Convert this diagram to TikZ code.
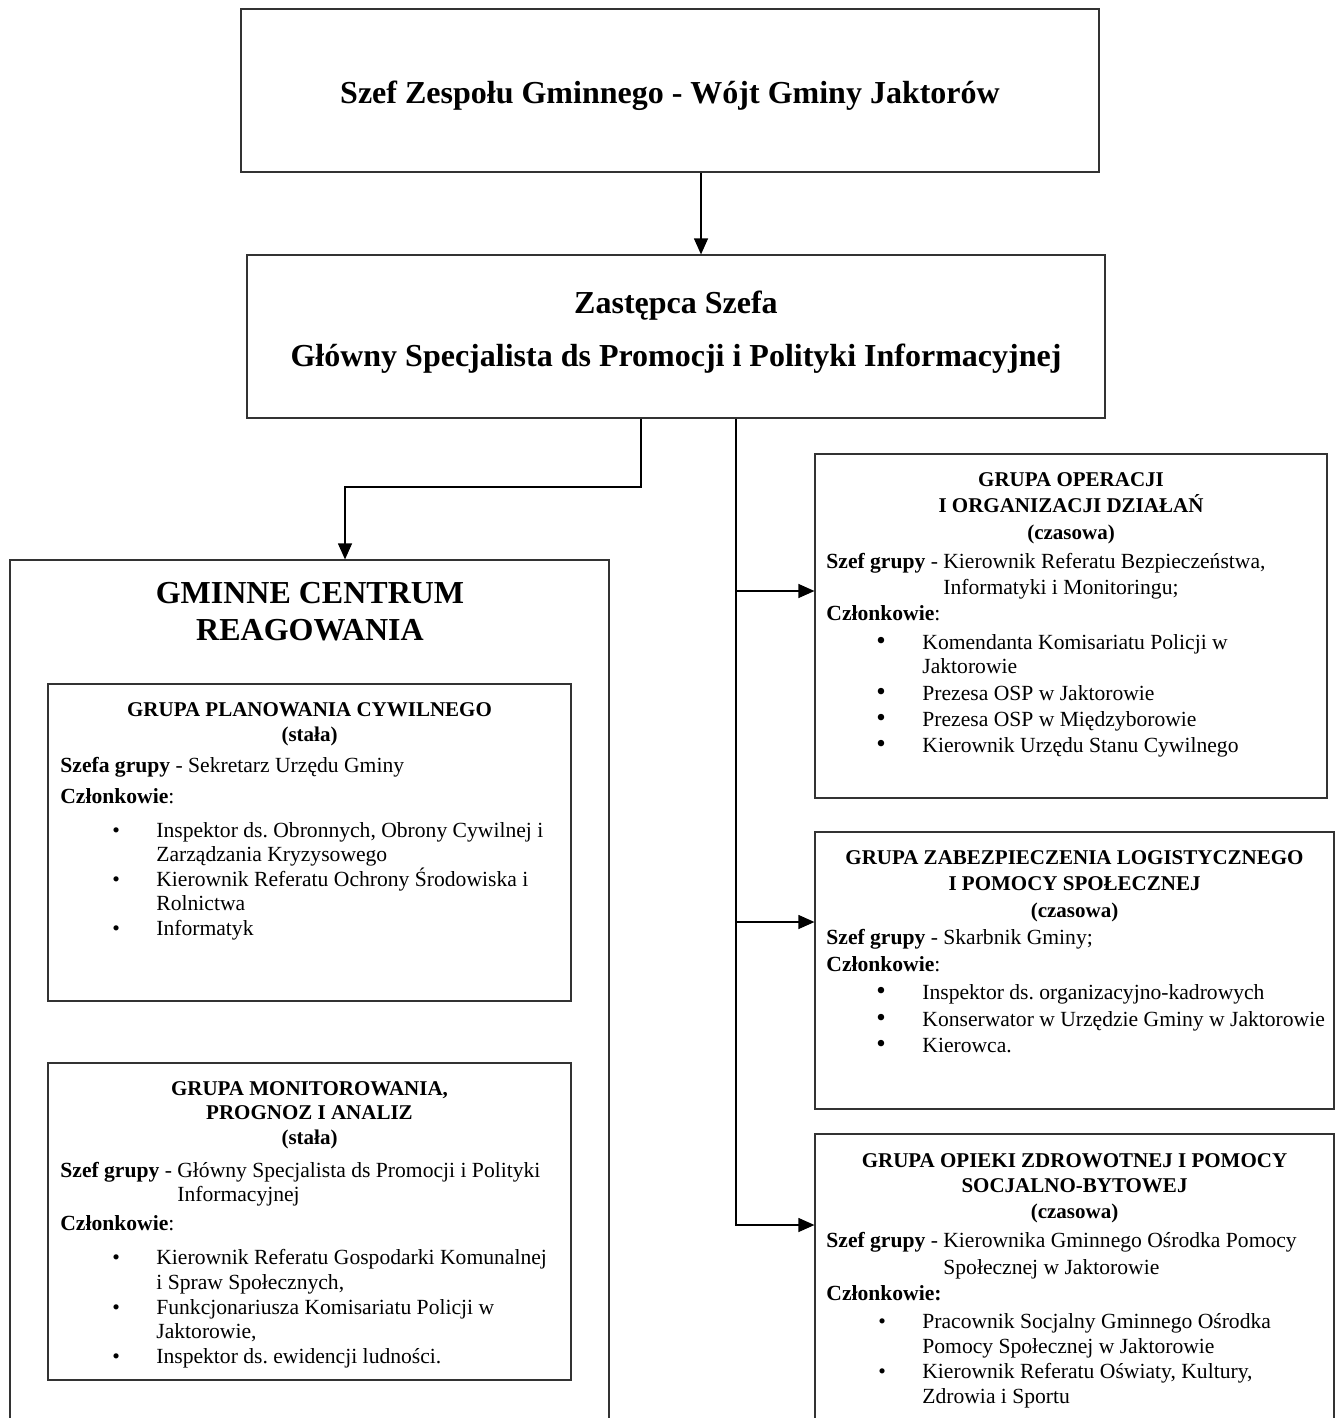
\documentclass[tikz,border=0pt]{standalone}
\usepackage{fontspec}
\setmainfont{Liberation Serif}
\usetikzlibrary{arrows.meta,fit}
\frenchspacing

\newcommand{\pkt}{\hspace*{26pt}\makebox[22pt][l]{\textbullet}}
\newcommand{\kro}{\hspace*{25pt}\makebox[23pt][l]{\smash{\raisebox{-0.4pt}{\fontsize{13.5}{13.5}\selectfont\textbullet}}}}
\newcommand{\dalej}{\hspace*{48pt}}
\newcommand{\szefgr}{\phantom{\textbf{Szef grupy} - }}

\tikzset{
  ramka/.style={draw=black!80, line width=0.6pt, inner sep=0pt},
  linia/.style={line width=0.6pt},
  strzalka/.style={linia, -{Triangle[length=8pt,width=7pt]}},
  tytul/.style={font=\fontsize{16}{26.5}\selectfont\bfseries, align=center, inner sep=0pt, anchor=base},
  naglowek/.style={font=\fontsize{10.5}{12.25}\selectfont\bfseries, align=center, inner sep=0pt, anchor=base},
  tresc/.style={font=\fontsize{10.8}{12}\selectfont, align=left, inner sep=0pt, anchor=base west}
}

\begin{document}
\begin{tikzpicture}[x=0.5pt,y=-0.5pt]
\useasboundingbox (0,0) rectangle (1338,1418);
\clip (0,0) rectangle (1338,1418);

% ramki
\node[ramka, fit={(241,9) (1099,172)}] (szef) {};
\node[ramka, fit={(247,255) (1105,418)}] (zastepca) {};
\node[ramka, fit={(10,560) (609,1440)}] (gcr) {};
\node[ramka, fit={(48,684) (571,1001)}] (planowanie) {};
\node[ramka, fit={(48,1063) (571,1380)}] (monitorowanie) {};
\node[ramka, fit={(815,454) (1327,798)}] (operacje) {};
\node[ramka, fit={(815,832) (1334,1109)}] (logistyka) {};
\node[ramka, fit={(815,1134) (1334,1440)}] (opieka) {};

% tytuly (kotwica = linia bazowa ostatniego wiersza)
\node[tytul] (t-szef) at (670,104) {Szef Zespołu Gminnego - Wójt Gminy Jaktorów};
\node[tytul] (t-zastepca) at (676,366) {Zastępca Szefa\\Główny Specjalista ds Promocji i Polityki Informacyjnej};
\node[tytul, font=\fontsize{16}{18.5}\selectfont\bfseries] (t-gcr) at (310,640) {GMINNE CENTRUM\\REAGOWANIA};

% grupy - lewa strona
\node[naglowek] (n-planowanie) at (309.5,741) {GRUPA PLANOWANIA CYWILNEGO\\(stała)};
\node[tresc] (b-planowanie) at (60,935) {\textbf{Szefa grupy} - Sekretarz Urzędu Gminy\\[3.5pt]
  \textbf{Członkowie}:\\[5pt]
  \pkt Inspektor ds. Obronnych, Obrony Cywilnej i\\
  \dalej Zarządzania Kryzysowego\\[0.5pt]
  \pkt Kierownik Referatu Ochrony Środowiska i\\
  \dalej Rolnictwa\\[0.5pt]
  \pkt Informatyk};

\node[naglowek] (n-monitorowanie) at (309.5,1144) {GRUPA MONITOROWANIA,\\PROGNOZ I ANALIZ\\(stała)};
\node[tresc] (b-monitorowanie) at (60,1363) {\textbf{Szef grupy} - Główny Specjalista ds Promocji i Polityki\\
  \szefgr Informacyjnej\\[2.5pt]
  \textbf{Członkowie}:\\[5pt]
  \pkt Kierownik Referatu Gospodarki Komunalnej\\[0.5pt]
  \dalej i Spraw Społecznych,\\[0.5pt]
  \pkt Funkcjonariusza Komisariatu Policji w\\
  \dalej Jaktorowie,\\[0.5pt]
  \pkt Inspektor ds. ewidencji ludności.};

% grupy - prawa strona
\node[naglowek] (n-operacje) at (1071,539) {GRUPA OPERACJI\\[1pt]I ORGANIZACJI DZIAŁAŃ\\[1pt](czasowa)};
\node[tresc] (b-operacje) at (826,752) {\textbf{Szef grupy} - Kierownik Referatu Bezpieczeństwa,\\[1pt]
  \szefgr Informatyki i Monitoringu;\\[1pt]
  \textbf{Członkowie}:\\[2.5pt]
  \kro Komendanta Komisariatu Policji w\\
  \dalej Jaktorowie\\[1.5pt]
  \kro Prezesa OSP w Jaktorowie\\[1pt]
  \kro Prezesa OSP w Międzyborowie\\[1pt]
  \kro Kierownik Urzędu Stanu Cywilnego};

\node[naglowek] (n-logistyka) at (1074.5,917) {GRUPA ZABEZPIECZENIA LOGISTYCZNEGO\\[1pt]I POMOCY SPOŁECZNEJ\\[1pt](czasowa)};
\node[tresc] (b-logistyka) at (826,1052) {\textbf{Szef grupy} - Skarbnik Gminy;\\[1.5pt]
  \textbf{Członkowie}:\\[2pt]
  \kro Inspektor ds. organizacyjno-kadrowych\\[1.5pt]
  \kro Konserwator w Urzędzie Gminy w Jaktorowie\\[1pt]
  \kro Kierowca.};

\node[naglowek] (n-opieka) at (1074.5,1218) {GRUPA OPIEKI ZDROWOTNEJ I POMOCY\\[0.5pt]SOCJALNO-BYTOWEJ\\[0.5pt](czasowa)};
\node[tresc] (b-opieka) at (826,1403) {\textbf{Szef grupy} - Kierownika Gminnego Ośrodka Pomocy\\[1.5pt]
  \szefgr Społecznej w Jaktorowie\\[1pt]
  \textbf{Członkowie:}\\[2pt]
  \pkt Pracownik Socjalny Gminnego Ośrodka\\[0.5pt]
  \dalej Pomocy Społecznej w Jaktorowie\\[0.5pt]
  \pkt Kierownik Referatu Oświaty, Kultury,\\[0.5pt]
  \dalej Zdrowia i Sportu};

% polaczenia
\coordinate (pion) at (701,0);
\draw[strzalka] (szef.south -| pion) -- (zastepca.north -| pion);
\coordinate (zakret) at (641,487);
\coordinate (zejscie) at (345,0);
\draw[strzalka] (zastepca.south -| zakret) -- (zakret) -| (gcr.north -| zejscie);
\coordinate (s1) at (736,591);
\coordinate (s2) at (736,922);
\coordinate (s3) at (736,1225);
\draw[strzalka] (zastepca.south -| s1) -- (s3) -- (s3 -| opieka.west);
\draw[strzalka] (s1) -- (s1 -| operacje.west);
\draw[strzalka] (s2) -- (s2 -| logistyka.west);
\end{tikzpicture}
\end{document}
